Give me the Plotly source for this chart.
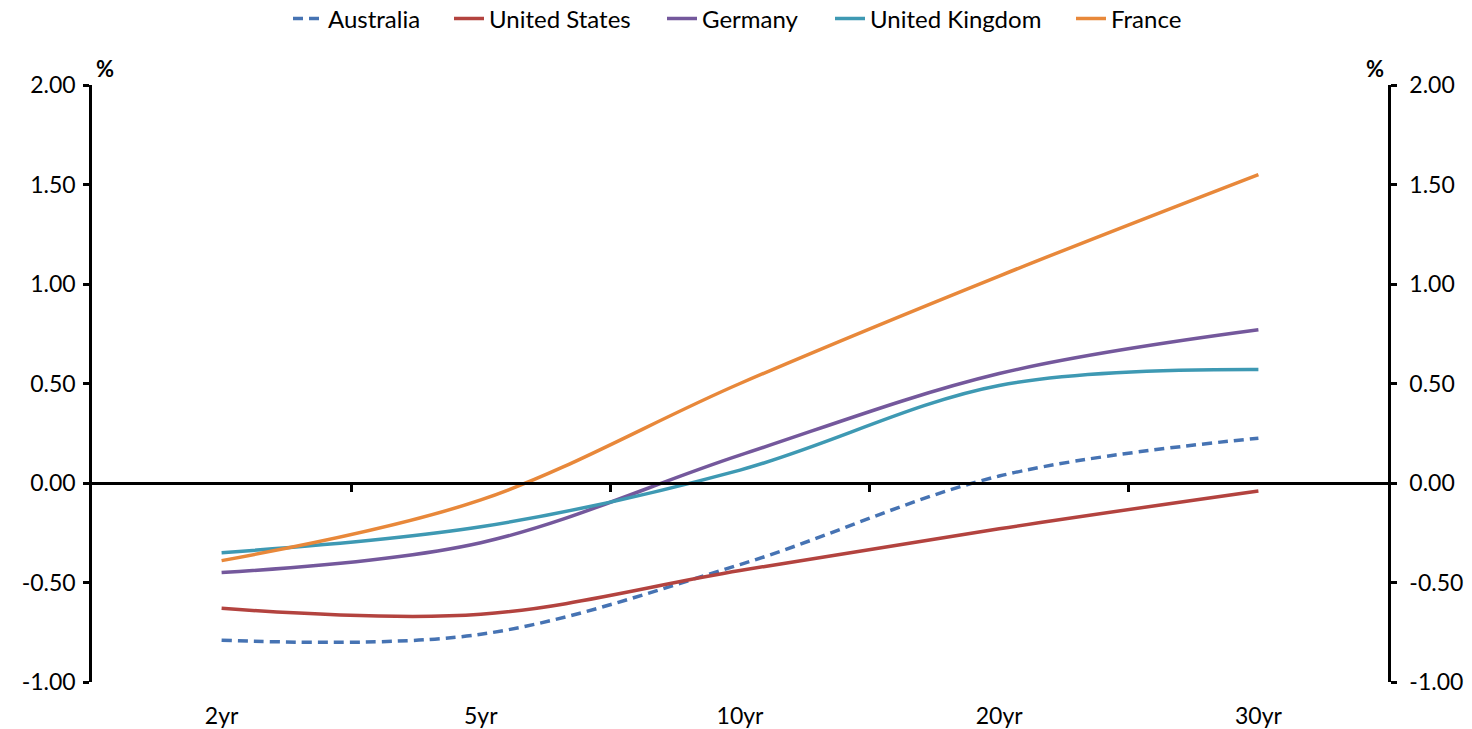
import plotly.graph_objects as go

categories = ["2yr", "5yr", "10yr", "20yr", "30yr"]
australia = [-0.79, -0.76, -0.41, 0.035, 0.225]
united_states = [-0.63, -0.66, -0.44, -0.23, -0.04]
germany = [-0.45, -0.30, 0.14, 0.55, 0.77]
united_kingdom = [-0.35, -0.22, 0.065, 0.49, 0.57]
france = [-0.39, -0.085, 0.50, 1.04, 1.55]

y_ticks = [-1.0, -0.5, 0.0, 0.5, 1.0, 1.5, 2.0]
y_tick_text = [f"{v:.2f}" for v in y_ticks]
y_range = [-1.0, 2.0]

series = [
    ("Australia", australia, "#4673B3", "10px,6px"),
    ("United States", united_states, "#B3433F", "solid"),
    ("Germany", germany, "#74589C", "solid"),
    ("United Kingdom", united_kingdom, "#3E99B3", "solid"),
    ("France", france, "#E8883A", "solid"),
]

# legend entry left edges (page px)
legend_px = [288, 449, 662, 830, 1071]

FONT = "Lato"
FS = 23
W, H = 1472, 729
ML, MR, MT, MB = 92, 84, 85, 47
plot_w = W - ML - MR

fig = go.Figure()
legend_layouts = {}
for i, (name, vals, color, dash) in enumerate(series):
    lname = "legend" if i == 0 else f"legend{i+1}"
    fig.add_trace(go.Scatter(
        x=categories, y=vals, name=name, mode="lines",
        line=dict(color=color, width=3.5, dash=dash, shape="spline", smoothing=1.0),
        xaxis="x", yaxis="y", legend=lname,
    ))
    legend_layouts[lname] = dict(
        orientation="h", x=(legend_px[i] - ML) / plot_w, xanchor="left",
        y=1 - 19 / H, yref="container", yanchor="middle",
        font=dict(size=24), itemwidth=30, bgcolor="rgba(0,0,0,0)",
    )

fig.add_trace(go.Scatter(x=[None], y=[None], xaxis="x2", yaxis="y", showlegend=False, hoverinfo="skip"))
fig.add_trace(go.Scatter(x=[None], y=[None], xaxis="x", yaxis="y2", showlegend=False, hoverinfo="skip"))

zero_pos = (0 - y_range[0]) / (y_range[1] - y_range[0])

fig.update_layout(
    width=W, height=H,
    margin=dict(l=ML, r=MR, t=MT, b=MB),
    paper_bgcolor="white", plot_bgcolor="white",
    font=dict(family=FONT, size=FS, color="black"),
    showlegend=True,
    xaxis=dict(
        type="category", range=[-0.5, 4.5], showline=False, showgrid=False,
        zeroline=False, ticks="outside", ticklen=13, tickcolor="rgba(0,0,0,0)",
        tickfont=dict(size=FS), automargin=False,
    ),
    xaxis2=dict(
        overlaying="x", anchor="free", position=zero_pos, type="linear",
        range=[-0.5, 4.5], showline=True, linecolor="black", linewidth=2.5,
        ticks="outside", ticklen=7, tickwidth=2.5, tickcolor="black",
        tickvals=[0.5, 1.5, 2.5, 3.5], showticklabels=False, showgrid=False,
        zeroline=False, automargin=False,
    ),
    yaxis=dict(
        range=y_range, tickvals=y_ticks, ticktext=y_tick_text, showline=True,
        linecolor="black", linewidth=2.5, ticks="outside", ticklen=6,
        tickwidth=2.5, tickcolor="black", showgrid=False, zeroline=False,
        tickfont=dict(size=FS), ticklabelstandoff=3, automargin=False,
    ),
    yaxis2=dict(
        overlaying="y", side="right", anchor="x", range=y_range, tickvals=y_ticks,
        ticktext=y_tick_text, showline=True, linecolor="black", linewidth=2.5,
        ticks="outside", ticklen=6, tickwidth=2.5, tickcolor="black",
        showgrid=False, zeroline=False, tickfont=dict(size=FS),
        ticklabelstandoff=8, automargin=False,
    ),
    annotations=[
        dict(text="<b>%</b>", x=0, y=1.0, xref="paper", yref="paper",
             xanchor="left", yanchor="bottom", xshift=2, yshift=1,
             showarrow=False, font=dict(size=22)),
        dict(text="<b>%</b>", x=1, y=1.0, xref="paper", yref="paper",
             xanchor="right", yanchor="bottom", xshift=-2, yshift=1,
             showarrow=False, font=dict(size=22)),
    ],
    **legend_layouts,
)

fig.write_html(
    "out.html",
    config={"displayModeBar": False},
    post_script="document.body.style.margin='0';document.body.style.padding='0';",
)
